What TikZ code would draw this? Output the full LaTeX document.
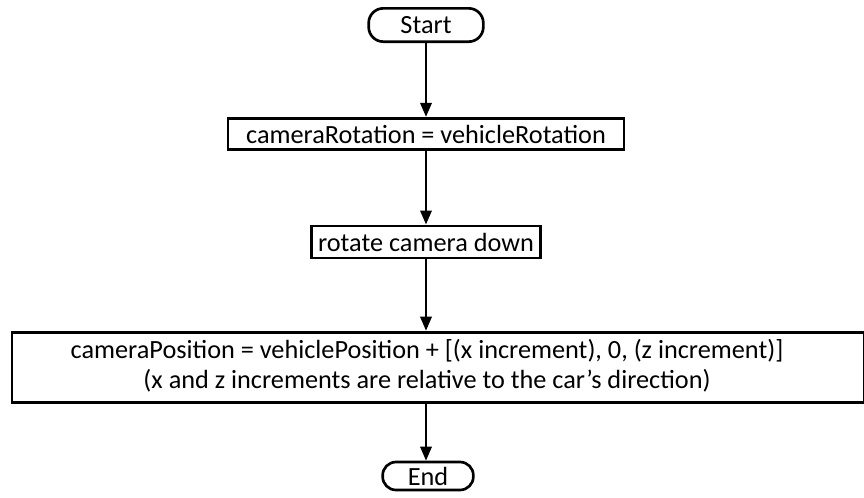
\documentclass[tikz,border=0pt]{standalone}
\usepackage{fontspec}
\setmainfont{Carlito}
\usetikzlibrary{arrows.meta}

\begin{document}
\begin{tikzpicture}[x=0.75pt,y=-0.75pt,
		every node/.style={font=\fontsize{19.7}{22}\selectfont, inner sep=0pt},
		terminal/.style={draw, line width=2pt, rounded corners=11pt},
		stepbox/.style={draw, line width=2.2pt},
		flow/.style={line width=1.8pt, -{Triangle[length=10.5pt,width=8.5pt]}}]
		\useasboundingbox (0,0) rectangle (864,497);
		% Terminals and steps, top to bottom
		\node[terminal, minimum width=86pt, minimum height=25pt] (start) at (426,25) {Start};
		\node[stepbox, minimum width=297pt, minimum height=23.5pt] (rot) at (426,134) {cameraRotation = vehicleRotation};
		\node[stepbox, minimum width=172pt, minimum height=24pt] (down) at (426,242) {rotate camera down};
		% Wide box runs off the right edge, text stays on the centre line
		\node[stepbox, minimum width=639pt, minimum height=53pt, align=center] (pos) at (438,367.5)
		{\begin{tabular}{@{}c@{}}cameraPosition = vehiclePosition + [(x increment), 0, (z increment)]\\
				(x and z increments are relative to the car’s direction)\end{tabular}\hspace*{16.5pt}};
		\node[terminal, minimum width=68pt, minimum height=21pt, rounded corners=10pt] (end) at (428,476) {End};
		% Connectors
		\draw[flow] (start) -- (rot);
		\draw[flow] (rot) -- (down);
		\draw[flow] (down) -- (pos.north -| down);
		\draw[flow] (pos.south -| down) -- (end.north -| down);
	\end{tikzpicture}
\end{document}
